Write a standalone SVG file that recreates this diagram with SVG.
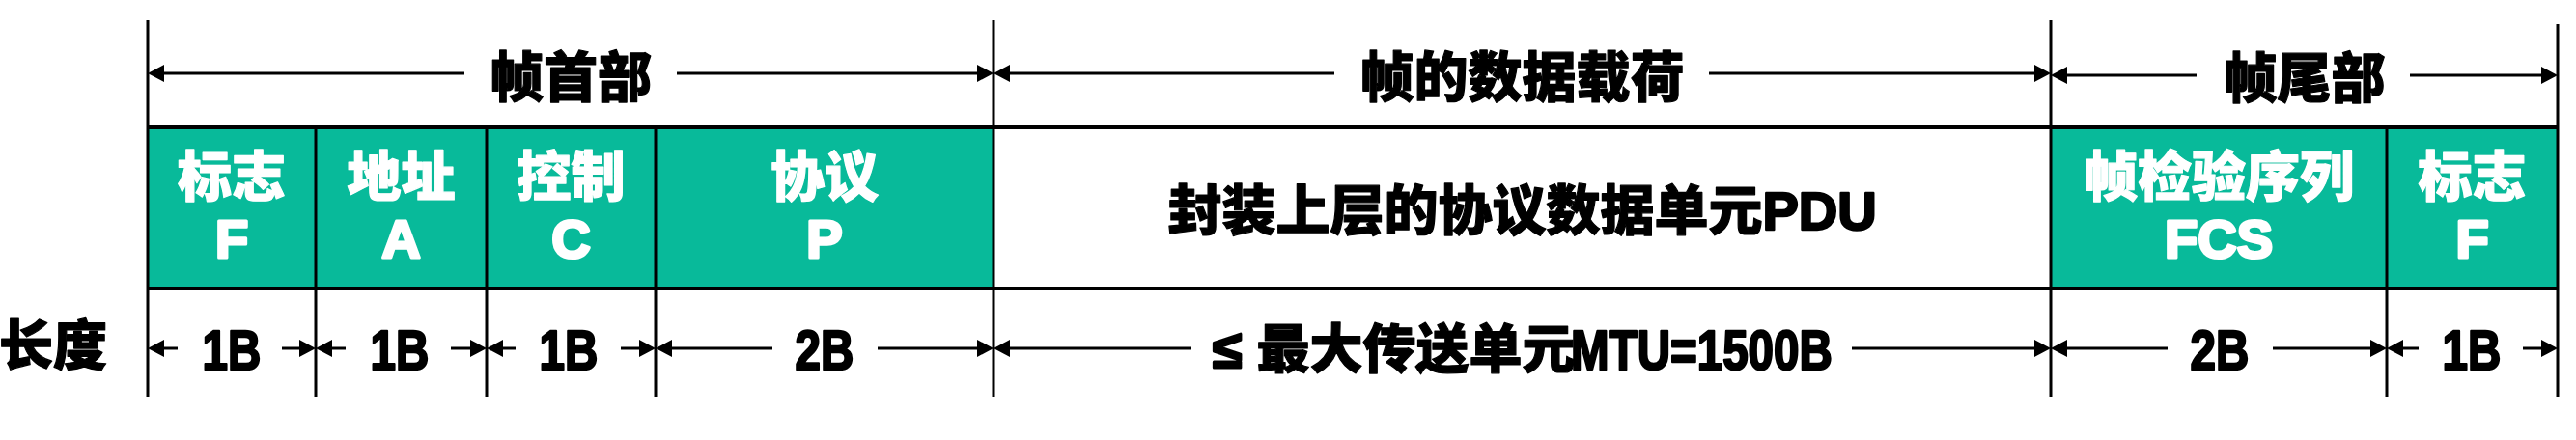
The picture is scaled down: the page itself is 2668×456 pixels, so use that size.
<svg xmlns="http://www.w3.org/2000/svg" width="2668" height="456" viewBox="0 0 2668 456">
<style>
.cjk{font-family:"Liberation Sans","Noto Sans CJK SC",sans-serif;font-weight:900;fill:#000;stroke:#000;stroke-width:1.2;stroke-linejoin:round;}
.w{fill:#fff;stroke:#fff;}
.lat{font-family:"Liberation Sans",sans-serif;font-weight:700;stroke-width:2.4;stroke-linejoin:round;}
.lat.w{stroke-width:3.2;}
.lat.b{fill:#000;stroke:#000;}
.le{stroke-width:3;}
.cell{fill:#08BA9A;}
.frame{stroke:#000;stroke-width:4;fill:none;}
.vl{stroke:#000;stroke-width:3;}
.arr{stroke:#000;stroke-width:3;fill:none;marker-end:url(#ah);}
</style>
<defs>
<marker id="ah" viewBox="0 0 17 18" markerWidth="17" markerHeight="18" refX="0" refY="9" orient="auto" markerUnits="userSpaceOnUse">
<path d="M0,0 L17,9 L0,18 Z" fill="#000"/>
</marker>
</defs>
<rect width="2668" height="456" fill="#fff"/>

<g id="header-labels">
<text class="cjk" x="591" y="100" font-size="56" text-anchor="middle">帧首部</text>
<text class="cjk" x="1576.5" y="100" font-size="56" text-anchor="middle">帧的数据载荷</text>
<text class="cjk" x="2386.5" y="101" font-size="56" text-anchor="middle">帧尾部</text>
</g>

<g id="cells">
<rect class="cell" x="153" y="132" width="876" height="167"/>
<rect class="cell" x="2124" y="132" width="525" height="167"/>
</g>

<g id="node-flag1">
<text class="cjk w" x="240" y="203" font-size="56" text-anchor="middle">标志</text>
<text class="lat w" x="240" y="267" font-size="56" text-anchor="middle">F</text>
</g>
<g id="node-address">
<text class="cjk w" x="415.5" y="203" font-size="56" text-anchor="middle">地址</text>
<text class="lat w" x="415.5" y="267" font-size="56" text-anchor="middle">A</text>
</g>
<g id="node-control">
<text class="cjk w" x="591.5" y="203" font-size="56" text-anchor="middle">控制</text>
<text class="lat w" x="591.5" y="267" font-size="56" text-anchor="middle">C</text>
</g>
<g id="node-protocol">
<text class="cjk w" x="854" y="203" font-size="56" text-anchor="middle">协议</text>
<text class="lat w" x="854" y="267" font-size="56" text-anchor="middle">P</text>
</g>
<g id="node-payload">
<text class="cjk" x="1576.5" y="238" font-size="56" text-anchor="middle">封装上层的协议数据单元<tspan class="lat b">PDU</tspan></text>
</g>
<g id="node-fcs">
<text class="cjk w" x="2298" y="203" font-size="56" text-anchor="middle">帧检验序列</text>
<text class="lat w" x="2298" y="267" font-size="56" text-anchor="middle">FCS</text>
</g>
<g id="node-flag2">
<text class="cjk w" x="2560.5" y="203" font-size="56" text-anchor="middle">标志</text>
<text class="lat w" x="2560.5" y="267" font-size="56" text-anchor="middle">F</text>
</g>

<g id="frame-lines">
<line class="frame" x1="153" y1="132" x2="2649" y2="132"/>
<line class="frame" x1="153" y1="299" x2="2649" y2="299"/>
<line class="vl" x1="153" y1="21" x2="153" y2="411"/>
<line class="vl" x1="1029" y1="21" x2="1029" y2="411"/>
<line class="vl" x1="2124" y1="21" x2="2124" y2="411"/>
<line class="vl" x1="2649" y1="25" x2="2649" y2="411"/>
<line class="vl" x1="327" y1="132" x2="327" y2="411"/>
<line class="vl" x1="504" y1="132" x2="504" y2="411"/>
<line class="vl" x1="679" y1="132" x2="679" y2="411"/>
<line class="vl" x1="2472" y1="132" x2="2472" y2="411"/>
</g>

<g id="length-labels">
<text class="cjk" x="-1" y="378" font-size="56">长度</text>
<text class="lat b" font-size="58" text-anchor="middle" transform="translate(240,383) scale(0.82,1)">1B</text>
<text class="lat b" font-size="58" text-anchor="middle" transform="translate(414,383) scale(0.82,1)">1B</text>
<text class="lat b" font-size="58" text-anchor="middle" transform="translate(589,383) scale(0.82,1)">1B</text>
<text class="lat b" font-size="58" text-anchor="middle" transform="translate(854,383) scale(0.82,1)">2B</text>
<text class="cjk" x="1256" y="381" font-size="55"><tspan class="le">≤</tspan> 最大传送单元</text>
<text class="lat b" font-size="58" transform="translate(1627,383) scale(0.82,1)">MTU=1500B</text>
<text class="lat b" font-size="58" text-anchor="middle" transform="translate(2299,383) scale(0.82,1)">2B</text>
<text class="lat b" font-size="58" text-anchor="middle" transform="translate(2560,383) scale(0.82,1)">1B</text>
</g>

<g id="connectors">
<line class="arr" x1="481" y1="76" x2="170" y2="76"/>
<line class="arr" x1="701" y1="76" x2="1012" y2="76"/>
<line class="arr" x1="1382" y1="76" x2="1046" y2="76"/>
<line class="arr" x1="1770" y1="76" x2="2107" y2="76"/>
<line class="arr" x1="2275" y1="78" x2="2141" y2="78"/>
<line class="arr" x1="2496" y1="78" x2="2632" y2="78"/>

<line class="arr" x1="184" y1="361" x2="170" y2="361"/>
<line class="arr" x1="292" y1="361" x2="310" y2="361"/>
<line class="arr" x1="358" y1="361" x2="344" y2="361"/>
<line class="arr" x1="467" y1="361" x2="487" y2="361"/>
<line class="arr" x1="534" y1="361" x2="521" y2="361"/>
<line class="arr" x1="643" y1="361" x2="662" y2="361"/>
<line class="arr" x1="800" y1="361" x2="696" y2="361"/>
<line class="arr" x1="909" y1="361" x2="1012" y2="361"/>
<line class="arr" x1="1234" y1="361" x2="1046" y2="361"/>
<line class="arr" x1="1918" y1="361" x2="2107" y2="361"/>
<line class="arr" x1="2245" y1="361" x2="2141" y2="361"/>
<line class="arr" x1="2354" y1="361" x2="2455" y2="361"/>
<line class="arr" x1="2505" y1="361" x2="2489" y2="361"/>
<line class="arr" x1="2613" y1="361" x2="2632" y2="361"/>
</g>
</svg>
